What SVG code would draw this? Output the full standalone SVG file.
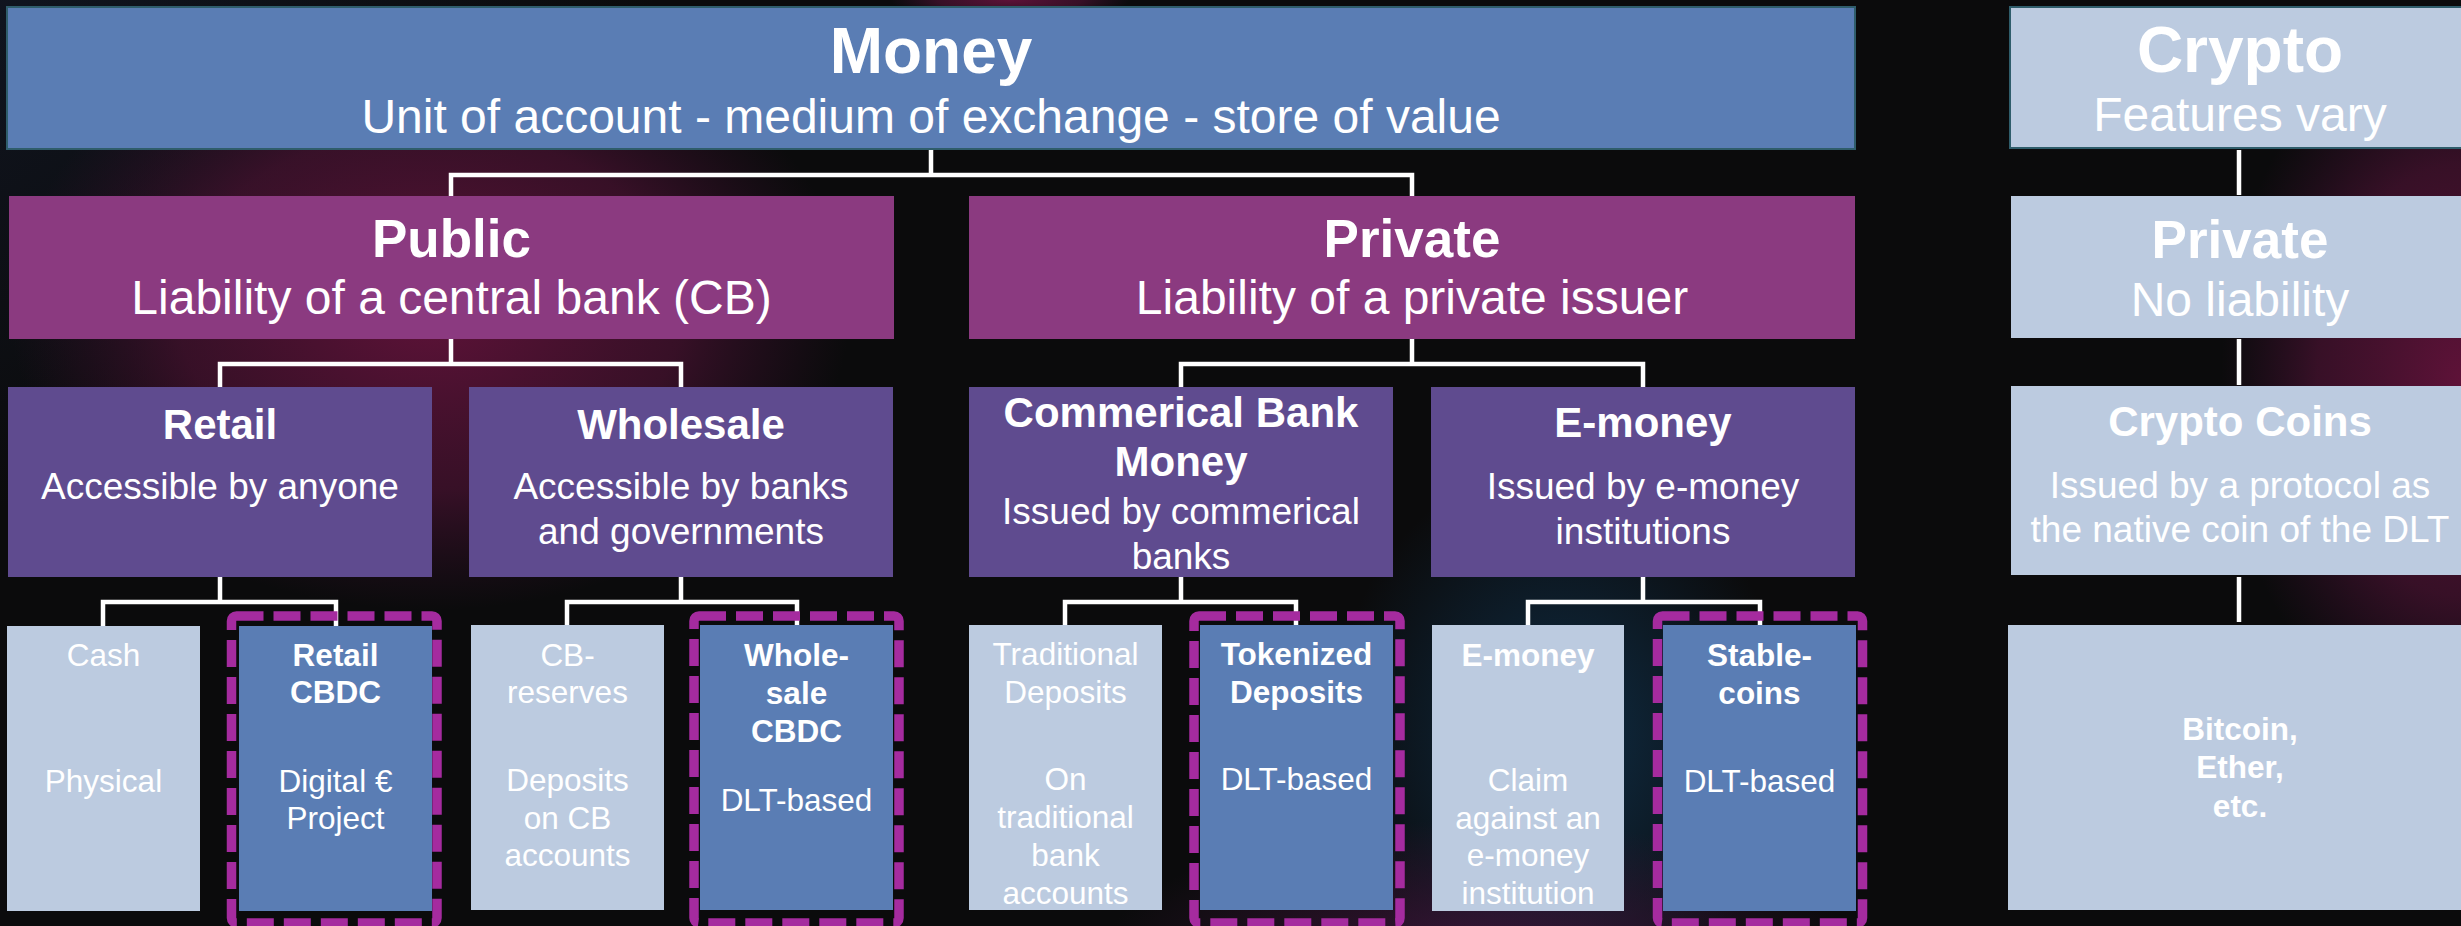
<svg xmlns="http://www.w3.org/2000/svg" width="2461" height="926" viewBox="0 0 2461 926">
<defs>
<style>
text{font-family:"Liberation Sans",Arial,sans-serif;fill:#fff;text-anchor:middle}
.t1{font-size:64px;font-weight:bold}
.t2{font-size:53px;font-weight:bold}
.t3{font-size:42px;font-weight:bold}
.s1{font-size:48px}
.s3{font-size:37px}
.b{font-size:31.5px;font-weight:bold}
.r{font-size:31.5px}
.blue{fill:#5a7db4}
.light{fill:#bccbe0}
.pub{fill:#8b3a80}
.vio{fill:#5f4b8f}
.dash{fill:none;stroke:#a52b9f;stroke-width:9.5;stroke-dasharray:27 10}
.conn{fill:none;stroke:#fff;stroke-width:4.5;stroke-linejoin:miter}
</style>
<radialGradient id="gNavy" cx="0" cy="0" r="1"><stop offset="0" stop-color="#1c2b4c"/><stop offset="1" stop-color="#1c2b4c" stop-opacity="0"/></radialGradient>
<radialGradient id="gMag" cx="0.5" cy="0.5" r="0.5"><stop offset="0" stop-color="#5e1238"/><stop offset="0.6" stop-color="#4a1232" stop-opacity="0.7"/><stop offset="1" stop-color="#3a1030" stop-opacity="0"/></radialGradient>
<radialGradient id="gTeal" cx="0.5" cy="0.5" r="0.5"><stop offset="0" stop-color="#0f2d45"/><stop offset="1" stop-color="#0f2d45" stop-opacity="0"/></radialGradient>
<radialGradient id="gPur" cx="0.5" cy="0.5" r="0.5"><stop offset="0" stop-color="#3a1538"/><stop offset="1" stop-color="#3a1538" stop-opacity="0"/></radialGradient>
</defs>
<g id="background">
<rect x="0" y="0" width="2461" height="926" fill="#0b0b0c"/>
<ellipse cx="0" cy="0" rx="900" ry="700" fill="url(#gNavy)"/>
<ellipse cx="430" cy="310" rx="420" ry="300" fill="url(#gMag)"/>
<ellipse cx="1560" cy="740" rx="230" ry="280" fill="url(#gTeal)"/>
<ellipse cx="1480" cy="960" rx="380" ry="140" fill="url(#gPur)"/>
<ellipse cx="2461" cy="380" rx="240" ry="360" fill="url(#gMag)"/>
<ellipse cx="1010" cy="0" rx="120" ry="20" fill="url(#gMag)"/>
</g>
<g id="connectors">
<path class="conn" d="M931,149 V175 M451,196 V175 H1412 V196"/>
<path class="conn" d="M451,339 V364 M220,387 V364 H681 V387"/>
<path class="conn" d="M1412,339 V364 M1181,387 V364 H1643 V387"/>
<path class="conn" d="M220,577 V602 M103,626 V602 H336 V626"/>
<path class="conn" d="M681,577 V602 M567,625 V602 H797 V625"/>
<path class="conn" d="M1181,577 V602 M1065,625 V602 H1296 V625"/>
<path class="conn" d="M1643,577 V602 M1528,625 V602 H1760 V625"/>
<path class="conn" d="M2239,150 V195 M2239,339 V385 M2239,577 V622"/>
</g>
<g id="money">
<rect x="7" y="7" width="1848" height="142" class="blue" stroke="#2f5d6b" stroke-width="2"/>
<text class="t1" x="931" y="73">Money</text>
<text class="s1" x="931" y="133">Unit of account - medium of exchange - store of value</text>
</g>
<g id="crypto">
<rect x="2010" y="7" width="470" height="141" class="light" stroke="#2f5d6b" stroke-width="2"/>
<text class="t1" x="2240" y="72">Crypto</text>
<text class="s1" x="2240" y="131">Features vary</text>
</g>
<g id="public">
<rect x="9" y="196" width="885" height="143" class="pub"/>
<text class="t2" x="451.5" y="257">Public</text>
<text class="s1" x="451.5" y="314">Liability of a central bank (CB)</text>
</g>
<g id="private">
<rect x="969" y="196" width="886" height="143" class="pub"/>
<text class="t2" x="1412" y="257">Private</text>
<text class="s1" x="1412" y="314">Liability of a private issuer</text>
</g>
<g id="crypto-private">
<rect x="2011" y="196" width="470" height="142" class="light"/>
<text class="t2" x="2240" y="258">Private</text>
<text class="s1" x="2240" y="316">No liability</text>
</g>
<g id="retail">
<rect x="8" y="387" width="424" height="190" class="vio"/>
<text class="t3" x="220" y="439">Retail</text>
<text class="s3" x="220" y="499">Accessible by anyone</text>
</g>
<g id="wholesale">
<rect x="469" y="387" width="424" height="190" class="vio"/>
<text class="t3" x="681" y="439">Wholesale</text>
<text class="s3" x="681" y="499">Accessible by banks</text>
<text class="s3" x="681" y="544">and governments</text>
</g>
<g id="commercial-bank-money">
<rect x="969" y="387" width="424" height="190" class="vio"/>
<text class="t3" x="1181" y="427">Commerical Bank</text>
<text class="t3" x="1181" y="476">Money</text>
<text class="s3" x="1181" y="524">Issued by commerical</text>
<text class="s3" x="1181" y="569">banks</text>
</g>
<g id="e-money">
<rect x="1431" y="387" width="424" height="190" class="vio"/>
<text class="t3" x="1643" y="437">E-money</text>
<text class="s3" x="1643" y="499">Issued by e-money</text>
<text class="s3" x="1643" y="544">institutions</text>
</g>
<g id="crypto-coins">
<rect x="2011" y="386" width="470" height="189" class="light"/>
<text class="t3" x="2240" y="436">Crypto Coins</text>
<text class="s3" x="2240" y="498">Issued by a protocol as</text>
<text class="s3" x="2240" y="542">the native coin of the DLT</text>
</g>
<g id="cash">
<rect x="7" y="626" width="193" height="285" class="light"/>
<text class="r" x="103.5" y="666">Cash</text>
<text class="r" x="103.5" y="792">Physical</text>
</g>
<g id="retail-cbdc">
<rect x="239" y="626" width="193" height="285" class="blue"/>
<rect x="231.5" y="616" width="205.5" height="307" rx="5" class="dash"/>
<text class="b" x="335.5" y="666">Retail</text>
<text class="b" x="335.5" y="703">CBDC</text>
<text class="r" x="335.5" y="792">Digital €</text>
<text class="r" x="335.5" y="829">Project</text>
</g>
<g id="cb-reserves">
<rect x="471" y="625" width="193" height="285" class="light"/>
<text class="r" x="567.5" y="666">CB-</text>
<text class="r" x="567.5" y="703">reserves</text>
<text class="r" x="567.5" y="791">Deposits</text>
<text class="r" x="567.5" y="829">on CB</text>
<text class="r" x="567.5" y="866">accounts</text>
</g>
<g id="wholesale-cbdc">
<rect x="700" y="625" width="193" height="285" class="blue"/>
<rect x="694" y="616" width="205" height="307" rx="5" class="dash"/>
<text class="b" x="796.5" y="666">Whole-</text>
<text class="b" x="796.5" y="704">sale</text>
<text class="b" x="796.5" y="742">CBDC</text>
<text class="r" x="796.5" y="811">DLT-based</text>
</g>
<g id="traditional-deposits">
<rect x="969" y="625" width="193" height="285" class="light"/>
<text class="r" x="1065.5" y="665">Traditional</text>
<text class="r" x="1065.5" y="703">Deposits</text>
<text class="r" x="1065.5" y="790">On</text>
<text class="r" x="1065.5" y="828">traditional</text>
<text class="r" x="1065.5" y="866">bank</text>
<text class="r" x="1065.5" y="904">accounts</text>
</g>
<g id="tokenized-deposits">
<rect x="1200" y="625" width="193" height="285" class="blue"/>
<rect x="1194" y="616" width="206" height="307" rx="5" class="dash"/>
<text class="b" x="1296.5" y="665">Tokenized</text>
<text class="b" x="1296.5" y="703">Deposits</text>
<text class="r" x="1296.5" y="790">DLT-based</text>
</g>
<g id="e-money-token">
<rect x="1432" y="625" width="192" height="286" class="light"/>
<text class="b" x="1528" y="666">E-money</text>
<text class="r" x="1528" y="791">Claim</text>
<text class="r" x="1528" y="829">against an</text>
<text class="r" x="1528" y="866">e-money</text>
<text class="r" x="1528" y="904">institution</text>
</g>
<g id="stablecoins">
<rect x="1663" y="625" width="193" height="286" class="blue"/>
<rect x="1657.5" y="616" width="205" height="307" rx="5" class="dash"/>
<text class="b" x="1759.5" y="666">Stable-</text>
<text class="b" x="1759.5" y="704">coins</text>
<text class="r" x="1759.5" y="792">DLT-based</text>
</g>
<g id="bitcoin">
<rect x="2008" y="625" width="472" height="285" class="light"/>
<text class="b" x="2240" y="740">Bitcoin,</text>
<text class="b" x="2240" y="778">Ether,</text>
<text class="b" x="2240" y="817">etc.</text>
</g>
</svg>
